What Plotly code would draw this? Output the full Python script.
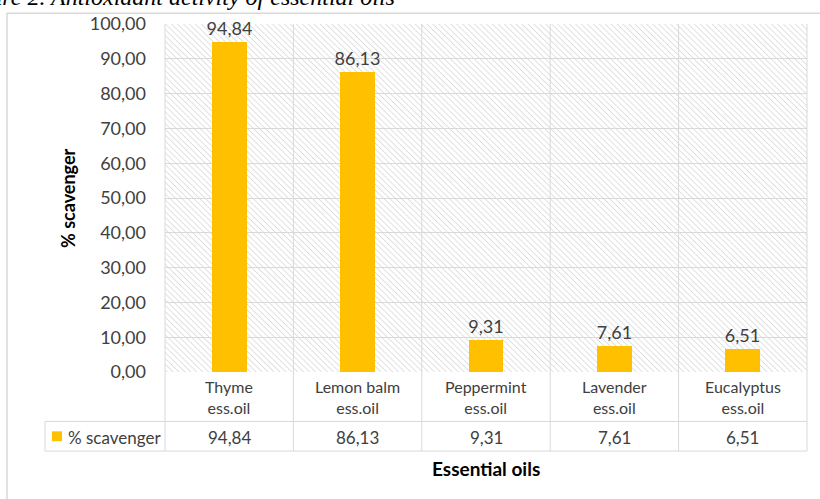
import base64
import plotly.graph_objects as go

# ---------------- data ----------------
cat_line1 = ["Thyme", "Lemon balm", "Peppermint", "Lavender", "Eucalyptus"]
cat_line2 = ["ess.oil", "ess.oil", "ess.oil", "ess.oil", "ess.oil"]
categories = [a + " " + b for a, b in zip(cat_line1, cat_line2)]
scavenger = [94.84, 86.13, 9.31, 7.61, 6.51]
series_name = "% scavenger"
y_title = "% scavenger"
x_title = "Essential oils"
caption = "Figure 2. Antioxidant activity of essential oils"

# ---------------- layout geometry (pixels) ----------------
W, H = 820, 499
L, R, T, B = 165, 807, 20, 372
PW, PH = R - L, B - T
FONT = "Lato"
TXT = "#404040"
GRID = "#d9d9d9"
BAR = "#FFC000"


def px(x):
    return (x - L) / PW


def py(y):
    return (B - y) / PH


n = len(categories)

fig = go.Figure()
fig.add_trace(go.Bar(
    x=categories, y=scavenger, name=series_name, width=0.27,
    marker=dict(color=BAR, line=dict(width=0)),
    text=scavenger, texttemplate="%{y:.2f}", textposition="outside",
    constraintext="none",
    textfont=dict(family=FONT, size=18, color=TXT), cliponaxis=False,
))

# hatched plot-area background as an svg pattern image
svg = f'''<svg xmlns="http://www.w3.org/2000/svg" width="{PW}" height="{PH}" viewBox="0 0 {PW} {PH}" preserveAspectRatio="none">
<defs><pattern id="p" width="4.2" height="4.2" patternUnits="userSpaceOnUse" patternTransform="rotate(-45)">
<rect width="4.2" height="4.2" fill="#ffffff"/>
<line x1="0" y1="0" x2="0" y2="4.2" stroke="#d2d2d2" stroke-width="1.3"/></pattern></defs>
<rect width="{PW}" height="{PH}" fill="url(#p)"/></svg>'''
uri = "data:image/svg+xml;base64," + base64.b64encode(svg.encode()).decode()

shapes = []
line = dict(color=GRID, width=1)
# vertical category boundaries (plot + table)
for k in range(n + 1):
    shapes.append(dict(type="line", xref="paper", yref="paper",
                       x0=k / n, x1=k / n, y0=py(T), y1=py(452), line=line))
# table horizontals
for yy in (422, 452):
    shapes.append(dict(type="line", xref="paper", yref="paper",
                       x0=px(45), x1=1, y0=py(yy), y1=py(yy), line=line))
shapes.append(dict(type="line", xref="paper", yref="paper",
                   x0=px(45), x1=px(45), y0=py(422), y1=py(452), line=line))
# outer chart frame
shapes.append(dict(type="rect", xref="paper", yref="paper",
                   x0=px(7), x1=px(840), y0=py(9), y1=py(520),
                   line=dict(color="#d9d9d9", width=1.5), layer="below"))
# legend key
shapes.append(dict(type="rect", xref="paper", yref="paper",
                   x0=px(52), x1=px(62), y0=py(432), y1=py(442),
                   fillcolor=BAR, line=dict(width=0)))

ann = []
for i, c in enumerate(categories):
    ann.append(dict(x=c, xref="x", yref="paper", y=py(397), yanchor="middle",
                    text=cat_line1[i] + "<br>" + cat_line2[i], showarrow=False,
                    font=dict(family=FONT, size=16, color=TXT)))
    ann.append(dict(x=c, xref="x", yref="paper", y=py(438), yanchor="middle",
                    text=f"{scavenger[i]:.2f}".replace(".", ","), showarrow=False,
                    font=dict(family=FONT, size=17, color=TXT)))
ann.append(dict(x=px(66), xref="paper", xanchor="left", yref="paper", y=py(438),
                yanchor="middle", text=series_name, showarrow=False,
                font=dict(family=FONT, size=17, color=TXT)))
ann.append(dict(x=0.5, xref="paper", xanchor="center", yref="paper", y=py(470),
                yanchor="middle", text="<b>" + x_title + "</b>", showarrow=False,
                font=dict(family=FONT, size=19, color="#000000")))
ann.append(dict(x=px(68), xref="paper", xanchor="center", yref="paper", y=0.5,
                yanchor="middle", textangle=-90,
                text="<b>" + y_title + "</b>", showarrow=False,
                font=dict(family=FONT, size=18, color="#000000")))
ann.append(dict(x=px(397), xref="paper", xanchor="right", yref="paper", y=py(8),
                yanchor="bottom", text="<i>" + caption + "</i>", showarrow=False,
                font=dict(family="Liberation Serif", size=24, color="#000000")))

fig.update_layout(
    width=W, height=H,
    margin=dict(l=L, r=W - R, t=T, b=H - B, pad=0),
    paper_bgcolor="white", plot_bgcolor="white",
    separators=",.",
    showlegend=False,
    bargap=0,
    images=[dict(source=uri, xref="paper", yref="paper", x=0, y=1,
                 sizex=1, sizey=1, xanchor="left", yanchor="top",
                 sizing="stretch", layer="below")],
    shapes=shapes, annotations=ann,
    xaxis=dict(showticklabels=False, showgrid=False, zeroline=False,
               showline=False, ticks="", range=[-0.5, n - 0.5]),
    yaxis=dict(range=[0, 100], dtick=10, tickformat=".2f", showgrid=True,
               gridcolor=GRID, gridwidth=1, zeroline=False, showline=False,
               ticks="", ticklabelstandoff=18,
               tickfont=dict(family=FONT, size=18, color=TXT)),
)

fig.write_html("out.html")
